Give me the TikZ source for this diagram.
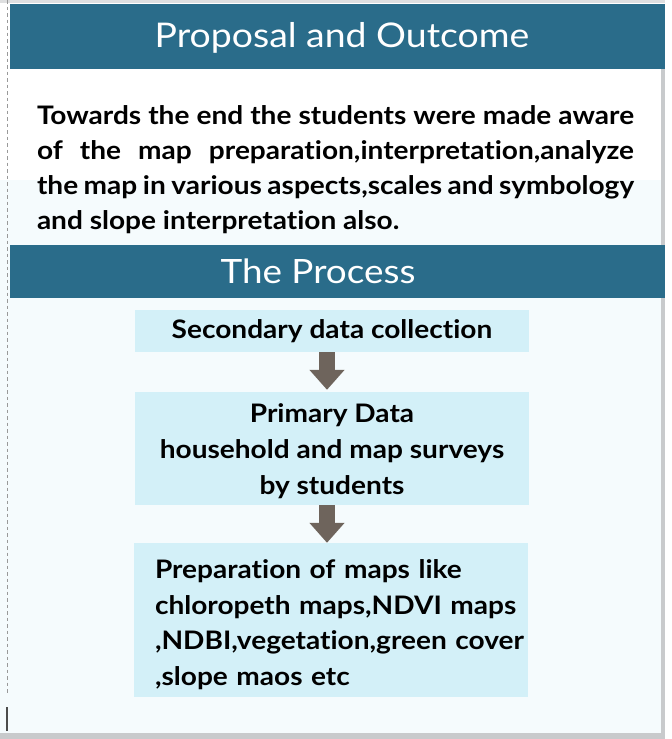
\documentclass[tikz,border=0pt]{standalone}
\usepackage{fontspec}
\setmainfont{Lato}[FakeStretch=1.1, Ligatures={NoCommon}]
\usetikzlibrary{arrows.meta}
\definecolor{hdrc}{RGB}{42,108,138}
\definecolor{boxc}{RGB}{211,240,248}
\definecolor{arrc}{RGB}{110,100,92}
\definecolor{tintc}{RGB}{245,251,253}
\definecolor{framec}{RGB}{200,202,204}
\tikzset{
  hdr/.style={fill=hdrc, draw=none, inner sep=0pt, minimum width=655pt},
  hdrtext/.style={text=white, inner sep=0pt},
  stepbox/.style={fill=boxc, draw=none, inner ysep=0pt, minimum width=394pt,
    font=\fontsize{25.5}{36}\selectfont\bfseries},
  flowarrow/.style={draw=arrc, line width=16pt, line cap=butt,
    -{Triangle[width=34pt,length=20pt]}},
}
\begin{document}
\begin{tikzpicture}[x=1pt,y=-1pt]
\useasboundingbox (0,0) rectangle (672,739);
% backgrounds
\fill[white] (0,0) rectangle (672,739);
\fill[tintc] (0,180) rectangle (662,733);
% frame
\fill[framec] (661,69) rectangle (665,739);
\fill[framec] (0,733) rectangle (665,739);
\fill[framec!60] (0,0) rectangle (665,3);
% left border
\draw[gray!80, line width=1pt, dash pattern=on 3.5pt off 3pt] (7,0) -- (7,695);
\draw[black!70, line width=1.2pt] (7,707) -- (7,731);
% headers
\node[hdr, minimum height=65pt] (h1) at (337.5,36.5) {};
\node[hdrtext, font=\fontsize{34}{40}\selectfont] (t1) at (342,38) {Proposal and Outcome};
\node[hdr, minimum height=53pt] (h2) at (337.5,271.5) {};
\node[hdrtext, font=\fontsize{33.5}{40}\selectfont] (t2) at (318,271) {The Process};
% body text
\node[inner sep=0pt, text width=597pt, align=justify,
      font=\fontsize{25.5}{35}\selectfont\bfseries] (body) at (335.5,170)
 {Towards the end the students were made aware\linebreak
  of the map preparation,interpretation,analyze\linebreak
  the map in various aspects,scales and symbology\linebreak
  and slope interpretation also.};
% process boxes
\node[stepbox, minimum height=42pt] (b1) at (332,331) {Secondary data collection};
\node[stepbox, minimum height=113pt, align=center] (b2) at (332,448.5)
 {\rule{0pt}{23.5pt}Primary Data\\household and map surveys\\by students};
\node[stepbox, minimum height=154pt, text width=352pt, inner xsep=21pt, align=left,
      font=\fontsize{25.5}{35.5}\selectfont\bfseries] (b3) at (331,620)
 {\mbox{\rule{0pt}{28pt}Preparation of maps like}\\\mbox{chloropeth maps,NDVI maps}\\\mbox{,NDBI,vegetation,green cover}\\\mbox{,slope maos etc}};
% arrows
\draw[flowarrow] ([xshift=-5pt]b1.south) -- ([xshift=-5pt,yshift=2pt]b2.north);
\draw[flowarrow] ([xshift=-5pt]b2.south) -- ([xshift=-4pt,yshift=0pt]b3.north);
\end{tikzpicture}
\end{document}
